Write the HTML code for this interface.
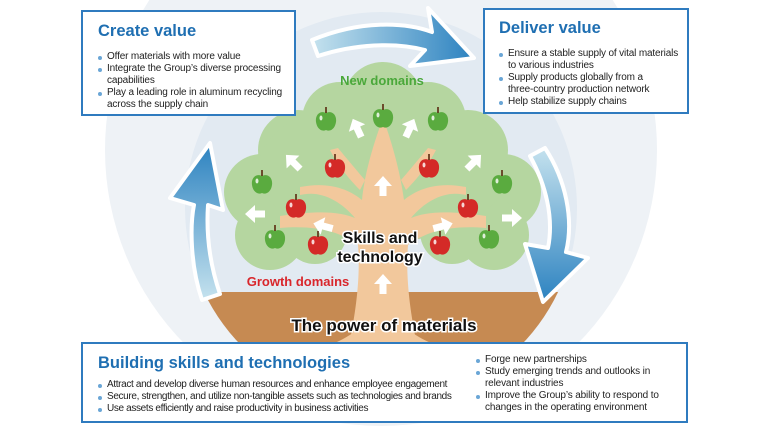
<!DOCTYPE html>
<html><head><meta charset="utf-8"><style>
body{margin:0;width:768px;height:432px;overflow:hidden;background:#fff;font-family:"Liberation Sans",sans-serif}
.box{position:absolute;background:#fff;border:2px solid #2f7bbf;box-sizing:border-box}
h2{margin:0;color:#1f6fb2;font-size:16.5px;font-weight:bold;line-height:20px}
ul{margin:0;padding:0;list-style:none;font-size:10px;line-height:12px;color:#222;letter-spacing:-0.15px}
li{position:relative;padding-left:9px}
li:before{content:"";position:absolute;left:0;top:4.5px;width:4px;height:4px;border-radius:50%;background:#6aa6d6}
</style></head><body>
<svg width="768" height="432" style="position:absolute;left:0;top:0">
<defs>
<clipPath id="ic"><circle cx="381" cy="208" r="196"/></clipPath>
<linearGradient id="ga" x1="0" x2="1"><stop offset="0" stop-color="#c5e2ee"/><stop offset="1" stop-color="#2c82c0"/></linearGradient>
<linearGradient id="gl" x1="0" y1="1" x2="0" y2="0"><stop offset="0" stop-color="#c5e2ee"/><stop offset="1" stop-color="#2c82c0"/></linearGradient>
<linearGradient id="gr" x1="0" y1="0" x2="0" y2="1"><stop offset="0" stop-color="#c5e2ee"/><stop offset="1" stop-color="#2c82c0"/></linearGradient>
<g id="ap"><path d="M0,-9 C-6,-12 -11,-7 -10,0 C-9,7 -4,10 0,8 C4,10 9,7 10,0 C11,-7 6,-12 0,-9Z"/><rect x="-0.8" y="-15" width="1.6" height="6" fill="#5a2a10"/><ellipse cx="-5" cy="-4" rx="1.5" ry="2.5" fill="#fff" opacity=".8"/></g>
<g id="wa"><path d="M0,-10 L9,0 L3.5,0 L3.5,10 L-3.5,10 L-3.5,0 L-9,0Z" fill="#fff"/></g>
</defs>
<circle cx="381" cy="150" r="276" fill="#eef2f6"/>
<circle cx="381" cy="208" r="196" fill="#e2eaf2"/>
<rect x="150" y="292" width="470" height="140" fill="#c68a52" clip-path="url(#ic)"/>
<g fill="#b5d6a0">
<circle cx="340" cy="120" r="38"/><circle cx="383" cy="102" r="40"/><circle cx="428" cy="120" r="38"/>
<circle cx="298" cy="150" r="40"/><circle cx="468" cy="150" r="40"/>
<circle cx="262" cy="192" r="38"/><circle cx="503" cy="192" r="38"/>
<circle cx="270" cy="235" r="35"/><circle cx="494" cy="235" r="35"/>
<circle cx="315" cy="232" r="32"/><circle cx="452" cy="232" r="32"/>
<ellipse cx="383" cy="170" rx="125" ry="72"/>
</g>
<g fill="#f2c89c">
<path d="M350,340 C358,300 360,270 358,245 C340,232 318,225 280,228 L280,216 C320,210 340,212 355,218 C340,200 320,190 300,195 L300,187 C330,181 350,190 362,200 C365,170 375,140 383,118 C391,140 400,170 404,200 C416,190 436,181 466,187 L466,195 C446,190 426,200 411,218 C426,212 446,210 486,216 L486,228 C448,225 426,232 408,245 C406,270 408,300 416,340 Z"/>
<path d="M360,190 C345,175 335,160 330,150 L338,148 C348,160 358,172 365,180Z"/>
<path d="M406,190 C421,175 431,160 436,150 L428,148 C418,160 408,172 401,180Z"/>
<path d="M330,345 C355,335 368,322 372,310 L394,310 C398,322 410,335 436,345Z"/>
</g>
<use href="#wa" transform="translate(383,186)"/>
<use href="#wa" transform="translate(383,284)"/>
<use href="#wa" transform="translate(357,128) rotate(-25)"/>
<use href="#wa" transform="translate(410,128) rotate(25)"/>
<use href="#wa" transform="translate(293,162) rotate(-45)"/>
<use href="#wa" transform="translate(474,162) rotate(45)"/>
<use href="#wa" transform="translate(255,214) rotate(-90)"/>
<use href="#wa" transform="translate(512,218) rotate(90)"/>
<use href="#wa" transform="translate(323,226) rotate(-75)"/>
<use href="#wa" transform="translate(443,226) rotate(75)"/>
<g fill="#5aab3f">
<use href="#ap" x="326" y="122"/><use href="#ap" x="383" y="119"/><use href="#ap" x="438" y="122"/>
<use href="#ap" x="262" y="185"/><use href="#ap" x="502" y="185"/><use href="#ap" x="275" y="240"/><use href="#ap" x="489" y="240"/>
</g>
<g fill="#d42a27">
<use href="#ap" x="335" y="169"/><use href="#ap" x="429" y="169"/><use href="#ap" x="296" y="209"/><use href="#ap" x="468" y="209"/><use href="#ap" x="318" y="246"/><use href="#ap" x="440" y="246"/>
</g>
<path d="M312,40 C360,20 405,22 432,32 L428,8 L474,58 L410,66 L425,50 C395,42 355,44 318,56 Z" fill="url(#ga)" stroke="#fff" stroke-width="4" stroke-linejoin="round"/>
<path d="M202,300 C190,265 190,225 194,205 L170,198 L210,143 L223,210 L208,205 C206,235 210,265 220,294 Z" fill="url(#gl)" stroke="#fff" stroke-width="4" stroke-linejoin="round"/>
<path d="M545,148 C566,180 574,220 566,252 L588,258 L543,302 L525,244 L548,248 C554,218 546,185 530,156 Z" fill="url(#gr)" stroke="#fff" stroke-width="4" stroke-linejoin="round"/>
<g font-weight="bold" font-family="Liberation Sans,sans-serif">
<text x="382" y="85" text-anchor="middle" fill="#4aa83a" font-size="13">New domains</text>
<text x="298" y="286" text-anchor="middle" fill="#d9262b" font-size="13">Growth domains</text>
<g text-anchor="middle" font-size="16" fill="#111" stroke="#fff" stroke-width="3" paint-order="stroke">
<text x="380" y="243">Skills and</text><text x="380" y="262">technology</text>
<text x="384" y="331" font-size="17">The power of materials</text>
</g></g>
</svg>
<div class="box" style="left:81px;top:10px;width:215px;height:106px;padding:9px 0 0 15px"><h2>Create value</h2><ul style="margin-top:10px;width:190px"><li>Offer materials with more value</li><li>Integrate the Group’s diverse processing capabilities</li><li>Play a leading role in aluminum recycling across the supply chain</li></ul></div>
<div class="box" style="left:483px;top:8px;width:206px;height:106px;padding:8px 0 0 14px"><h2>Deliver value</h2><ul style="margin-top:10px;width:180px"><li>Ensure a stable supply of vital materials to various industries</li><li>Supply products globally from a<br>three-country production network</li><li>Help stabilize supply chains</li></ul></div>
<div class="box" style="left:81px;top:342px;width:607px;height:81px">
<h2 style="position:absolute;left:15px;top:9px">Building skills and technologies</h2>
<ul style="position:absolute;left:15px;top:35px;width:375px;letter-spacing:-0.35px"><li>Attract and develop diverse human resources and enhance employee engagement</li><li>Secure, strengthen, and utilize non-tangible assets such as technologies and brands</li><li>Use assets efficiently and raise productivity in business activities</li></ul>
<ul style="position:absolute;left:393px;top:10px;width:195px"><li>Forge new partnerships</li><li>Study emerging trends and outlooks in relevant industries</li><li>Improve the Group’s ability to respond to changes in the operating environment</li></ul>
</div>
</body></html>
